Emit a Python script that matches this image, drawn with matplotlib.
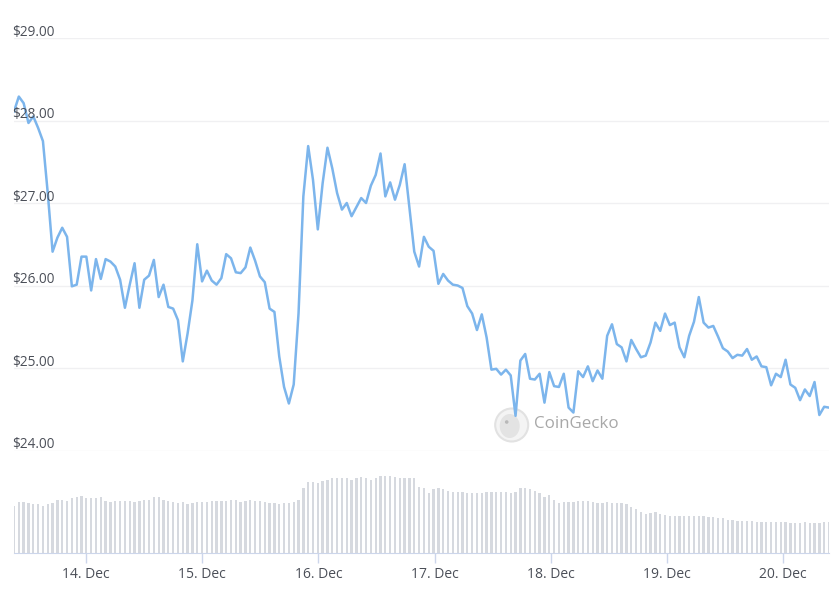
import numpy as np
import pandas as pd
import matplotlib
matplotlib.use('Agg')
import matplotlib.pyplot as plt
import matplotlib.dates as mdates
import matplotlib.transforms as mtransforms
from matplotlib.patches import Circle, Ellipse

plt.rcParams['font.family'] = ['Open Sans', 'DejaVu Sans']

# hourly samples, 13 Dec morning -> 20 Dec morning
times = pd.date_range('2023-12-13 09:08', '2023-12-20 09:27', periods=170)

price = [28.11, 28.29, 28.21, 27.97, 28.05, 27.91, 27.75, 27.12, 26.41, 26.58,
         26.70, 26.59, 25.99, 26.01, 26.35, 26.35, 25.94, 26.32, 26.08, 26.32,
         26.29, 26.23, 26.07, 25.73, 26.01, 26.27, 25.73, 26.07, 26.12, 26.31,
         25.86, 26.01, 25.74, 25.72, 25.58, 25.08, 25.42, 25.82, 26.50, 26.05,
         26.18, 26.06, 26.01, 26.09, 26.38, 26.33, 26.16, 26.15, 26.22, 26.46,
         26.30, 26.11, 26.04, 25.72, 25.68, 25.14, 24.77, 24.57, 24.80, 25.66,
         27.08, 27.69, 27.28, 26.68, 27.24, 27.67, 27.42, 27.12, 26.92, 27.00,
         26.84, 26.95, 27.06, 27.00, 27.21, 27.34, 27.60, 27.08, 27.25, 27.04,
         27.22, 27.47, 26.94, 26.41, 26.23, 26.59, 26.47, 26.42, 26.02, 26.14,
         26.06, 26.01, 26.00, 25.97, 25.75, 25.66, 25.46, 25.65, 25.37, 24.98,
         24.99, 24.92, 24.98, 24.91, 24.42, 25.09, 25.17, 24.87, 24.86, 24.93,
         24.58, 24.95, 24.78, 24.77, 24.93, 24.52, 24.46, 24.96, 24.89, 25.02,
         24.84, 24.97, 24.87, 25.39, 25.53, 25.29, 25.25, 25.08, 25.34, 25.23,
         25.13, 25.15, 25.31, 25.55, 25.45, 25.66, 25.52, 25.55, 25.25, 25.13,
         25.39, 25.56, 25.86, 25.55, 25.49, 25.51, 25.38, 25.24, 25.20, 25.12,
         25.16, 25.15, 25.23, 25.10, 25.14, 25.02, 25.01, 24.79, 24.93, 24.89,
         25.10, 24.80, 24.76, 24.61, 24.74, 24.66, 24.83, 24.43, 24.53, 24.52]

# volume (relative units)
volume = [143, 153, 153, 151, 147, 147, 143, 147, 151, 161,
          161, 157, 165, 169, 173, 165, 165, 165, 169, 157,
          153, 157, 157, 157, 157, 153, 157, 161, 161, 169,
          169, 161, 157, 153, 151, 153, 147, 151, 153, 153,
          153, 157, 157, 157, 157, 161, 161, 153, 157, 161,
          157, 157, 153, 151, 151, 147, 151, 151, 153, 161,
          195, 213, 213, 210, 217, 221, 225, 225, 225, 225,
          221, 225, 229, 225, 221, 225, 232, 232, 232, 229,
          225, 225, 225, 225, 200,
          195, 180, 192, 195, 192, 188, 184, 184, 184, 180,
          180, 180, 180, 184, 184, 184, 184, 184, 180, 184,
          195, 195, 192, 188, 180, 169, 176, 161, 151, 153,
          153, 153, 157, 157, 157, 153, 151, 151, 153, 151,
          151, 151, 147, 139, 132, 125, 118, 121, 123, 118,
          116, 113, 113, 113, 113, 113, 113, 113, 113, 109,
          109, 105, 105, 101, 101, 98, 98, 98, 98, 94,
          94, 94, 94, 94, 94, 94, 90, 90, 90, 94,
          90, 90, 90, 94, 94]

price_ticks = [24, 25, 26, 27, 28, 29]
day_ticks = pd.date_range('2023-12-14', '2023-12-20', freq='D')
day_labels = [f'{d.day}. Dec' for d in day_ticks]

W, H = 840, 592
fig = plt.figure(figsize=(W / 100, H / 100), dpi=100)

def box(x0, y0, x1, y1):
    # pixel box (top-left origin) -> figure fraction
    return [x0 / W, 1 - y1 / H, (x1 - x0) / W, (y1 - y0) / H]

ax = fig.add_axes(box(14, 38, 829, 450.5))
axv = fig.add_axes(box(14, 468.3, 829, 553.3), sharex=ax)
for a in (ax, axv):
    a.patch.set_visible(False)
    for s in a.spines.values():
        s.set_visible(False)

ax.set_ylim(24, 29)
ax.set_yticks(price_ticks)
ax.yaxis.grid(True, color='#f0f0f2', lw=1)
ax.set_axisbelow(True)
ax.tick_params(axis='both', length=0, labelleft=False, labelbottom=False)
ax.plot(times, price, color='#7cb5ec', lw=1.8, solid_joinstyle='round', zorder=3)

lbl_tr = mtransforms.offset_copy(ax.get_yaxis_transform(), fig, x=-2, y=2.5, units='dots')
for v in price_ticks:
    ax.text(0, v, f'${v:.2f}', transform=lbl_tr, ha='left', va='baseline',
            fontsize=9.8, color='#4b4f58')

axv.bar(times, volume, width=0.48 / 24, color='#d6d9df', align='center')
axv.set_ylim(0, 255)
axv.set_yticks([])
axv.spines['bottom'].set_visible(True)
axv.spines['bottom'].set_color('#ccd6eb')
axv.set_xlim(times[0], times[-1])
axv.set_xticks(day_ticks)
axv.set_xticklabels(day_labels)
axv.tick_params(axis='x', length=7.2, width=1, color='#ccd6eb', pad=3,
                labelsize=10, labelcolor='#4b4f58')

# CoinGecko watermark
cx, cy = 511.7 / 100, (H - 425) / 100
fig.add_artist(Circle((cx, cy), 0.165, transform=fig.dpi_scale_trans,
                      facecolor='#f4f4f4', edgecolor='#e2e2e2', lw=1.5, zorder=-2))
fig.add_artist(Ellipse((cx - 0.02, cy - 0.01), 0.2, 0.24, transform=fig.dpi_scale_trans,
                       facecolor='#e3e3e3', edgecolor='none', zorder=-2))
fig.add_artist(Circle((cx - 0.05, cy + 0.03), 0.018, transform=fig.dpi_scale_trans,
                      facecolor='#b8b8b8', edgecolor='none', zorder=-2))
fig.text(534 / W, 1 - 424 / H, 'CoinGecko', ha='left', va='center',
         fontsize=12.2, color='#a8a8a8', zorder=-2)

fig.savefig('out.png', dpi=100, facecolor='white')
